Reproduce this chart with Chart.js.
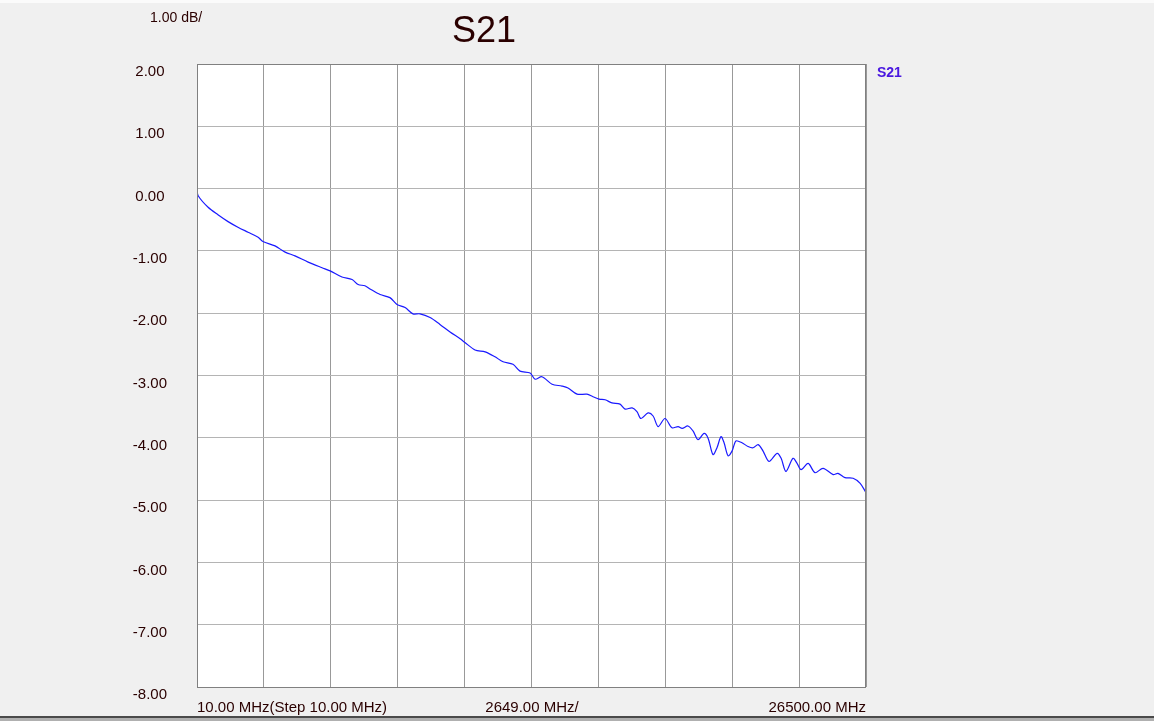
<!DOCTYPE html>
<html>
<head>
<meta charset="utf-8">
<script src="https://cdn.jsdelivr.net/npm/chart.js@4.4.0/dist/chart.umd.min.js"></script>
<style>
html,body{margin:0;padding:0;background:#f0f0f0;}
canvas{display:block;}
</style>
</head>
<body>
<canvas id="c" width="1154" height="721"></canvas>
<script>
// Frequency (MHz) and S21 magnitude (dB)
const freqMHz = [10,50,450,840,1240,1630,2030,2430,2620,3100,3500,3890,4410,4960,5280,5750,6150,6390,6660,6860,7260,7650,7930,8250,8560,8840,9240,9630,10030,10430,10620,11020,11420,11810,12130,12520,12800,13200,13400,13670,14070,14460,14700,15060,15450,15690,15930,16170,16440,16760,16960,17240,17430,17590,17870,18070,18270,18540,18820,19060,19220,19450,19650,19850,20090,20250,20440,20600,20760,20880,21040,21200,21350,21590,21830,22030,22230,22420,22660,22980,23140,23330,23610,23770,23930,24210,24480,24800,25200,25390,25670,25990,26270,26500];
const s21dB = [0.00,-0.11,-0.30,-0.42,-0.53,-0.62,-0.70,-0.78,-0.85,-0.92,-1.02,-1.08,-1.18,-1.27,-1.32,-1.42,-1.46,-1.54,-1.56,-1.61,-1.70,-1.75,-1.86,-1.91,-2.01,-2.01,-2.07,-2.18,-2.30,-2.41,-2.47,-2.59,-2.62,-2.70,-2.78,-2.82,-2.93,-2.96,-3.06,-3.02,-3.14,-3.17,-3.20,-3.30,-3.30,-3.34,-3.38,-3.39,-3.44,-3.46,-3.54,-3.52,-3.58,-3.69,-3.60,-3.65,-3.82,-3.69,-3.84,-3.82,-3.85,-3.81,-3.89,-4.03,-3.93,-4.01,-4.27,-4.16,-3.98,-4.08,-4.29,-4.21,-4.05,-4.08,-4.14,-4.16,-4.11,-4.21,-4.38,-4.25,-4.33,-4.54,-4.33,-4.41,-4.51,-4.41,-4.56,-4.49,-4.59,-4.57,-4.64,-4.65,-4.73,-4.88];

// Axis settings / labels
const startMHz = 10, stopMHz = 26500, stepPerDivMHz = 2649;
const yMin = -8, yMax = 2, yStep = 1;
const chartTitle = 'S21';
const scaleLabel = '1.00 dB/';
const xStartLabel = '10.00 MHz(Step 10.00 MHz)';
const xDivLabel = '2649.00 MHz/';
const xStopLabel = '26500.00 MHz';
const traceName = 'S21';

const FONT = "'Liberation Sans', Arial, sans-serif";
const TEXT_COLOR = '#2a0000';

const decor = {
  id: 'decor',
  beforeDraw(chart) {
    const ctx = chart.ctx, a = chart.chartArea;
    ctx.save();
    ctx.fillStyle = '#f0f0f0';
    ctx.fillRect(0, 0, chart.width, chart.height);
    ctx.fillStyle = '#fbfbfb';
    ctx.fillRect(0, 0, chart.width, 3);
    ctx.fillStyle = '#ffffff';
    ctx.fillRect(a.left, a.top, a.right - a.left, a.bottom - a.top);
    ctx.restore();
  },
  afterDraw(chart) {
    const ctx = chart.ctx, a = chart.chartArea;
    ctx.save();
    ctx.strokeStyle = '#808080';
    ctx.lineWidth = 1;
    ctx.strokeRect(Math.round(a.left) + 0.5, Math.round(a.top) + 0.5, Math.round(a.right - a.left) - 1, Math.round(a.bottom - a.top));
    ctx.fillStyle = TEXT_COLOR;
    ctx.textBaseline = 'alphabetic';
    // title
    ctx.font = '36px ' + FONT;
    ctx.textAlign = 'center';
    ctx.fillText(chartTitle, 484, 42);
    // scale per division
    ctx.font = '14px ' + FONT;
    ctx.textAlign = 'left';
    ctx.fillText(scaleLabel, 150, 22);
    // x labels
    ctx.font = '15px ' + FONT;
    ctx.textAlign = 'left';
    ctx.fillText(xStartLabel, a.left, 712);
    ctx.textAlign = 'center';
    ctx.fillText(xDivLabel, 532, 712);
    ctx.textAlign = 'right';
    ctx.fillText(xStopLabel, a.right, 712);
    // trace name
    ctx.font = 'bold 14px ' + FONT;
    ctx.fillStyle = '#4a18e0';
    ctx.textAlign = 'left';
    ctx.fillText(traceName, 877, 77);
    // bottom window border
    ctx.fillStyle = '#4a4a4a';
    ctx.fillRect(0, 716, chart.width, 2);
    ctx.fillStyle = '#b0b0b0';
    ctx.fillRect(0, 718, chart.width, 3);
    ctx.restore();
  }
};

const points = freqMHz.map((f, i) => ({x: f, y: s21dB[i]}));

new Chart(document.getElementById('c'), {
  type: 'line',
  data: {
    datasets: [{
      label: traceName,
      data: points,
      borderColor: '#1a1aff',
      borderWidth: 1.2,
      pointRadius: 0,
      tension: 0.3,
      fill: false
    }]
  },
  options: {
    responsive: false,
    animation: false,
    devicePixelRatio: 1,
    layout: {padding: {left: 0, right: 288, top: 64, bottom: 0}},
    plugins: {legend: {display: false}, tooltip: {enabled: false}, title: {display: false}},
    scales: {
      x: {
        type: 'linear',
        min: startMHz,
        max: stopMHz,
        ticks: {display: false, stepSize: stepPerDivMHz},
        grid: {color: '#999999', lineWidth: 1, drawTicks: false},
        border: {display: false},
        afterFit(scale) { scale.height = 34; scale.paddingLeft = 0; scale.paddingRight = 0; }
      },
      y: {
        min: yMin,
        max: yMax,
        ticks: {
          stepSize: yStep,
          callback: v => v.toFixed(2),
          color: TEXT_COLOR,
          font: {family: FONT, size: 15},
          crossAlign: 'center',
          padding: 30,
          labelOffset: 8
        },
        grid: {color: '#b4b4b4', lineWidth: 1, drawTicks: false},
        border: {display: false},
        afterFit(scale) { scale.width = 197; scale.paddingTop = 0; scale.paddingBottom = 0; }
      }
    }
  },
  plugins: [decor]
});
</script>
</body>
</html>
